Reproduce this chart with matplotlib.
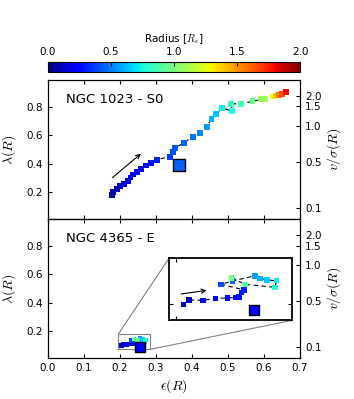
import numpy as np
import matplotlib.pyplot as plt
from matplotlib.colors import Normalize
from mpl_toolkits.axes_grid1.inset_locator import mark_inset

plt.rcParams['mathtext.fontset'] = 'cm'
plt.rcParams['font.size'] = 7.5
plt.rcParams['xtick.direction'] = 'in'
plt.rcParams['ytick.direction'] = 'in'

# NGC 1023 profile (ellipticity, lambda, radius in Re)
eps_1023 = [0.178, 0.180, 0.191, 0.201, 0.212, 0.222, 0.229, 0.235, 0.247, 0.259,
            0.272, 0.285, 0.302, 0.340, 0.347, 0.353, 0.378, 0.402, 0.421, 0.441,
            0.454, 0.466, 0.484, 0.512, 0.509, 0.535, 0.568, 0.591, 0.602, 0.624,
            0.633, 0.642, 0.649, 0.661]
lam_1023 = [0.179, 0.198, 0.221, 0.242, 0.258, 0.277, 0.303, 0.324, 0.343, 0.364,
            0.387, 0.404, 0.429, 0.450, 0.481, 0.511, 0.549, 0.591, 0.614, 0.658,
            0.717, 0.750, 0.792, 0.771, 0.822, 0.822, 0.839, 0.853, 0.858, 0.874,
            0.881, 0.886, 0.893, 0.904]
rad_1023 = [0.06, 0.08, 0.10, 0.12, 0.14, 0.16, 0.18, 0.20, 0.22, 0.24,
            0.26, 0.28, 0.31, 0.38, 0.40, 0.42, 0.45, 0.48, 0.52, 0.56,
            0.60, 0.64, 0.72, 0.76, 0.84, 0.88, 0.96, 1.04, 1.10, 1.30,
            1.42, 1.55, 1.65, 1.80]
big_1023 = (0.363, 0.389, 0.45)

# NGC 4365 profile
eps_4365 = [0.2049, 0.2091, 0.2190, 0.2278, 0.2363, 0.2422, 0.2443, 0.2462, 0.2480,
            0.2316, 0.2398, 0.2556, 0.2591, 0.2639, 0.2709, 0.2697, 0.2485, 0.2391]
lam_4365 = [0.0993, 0.1067, 0.1062, 0.1096, 0.1101, 0.1113, 0.1123, 0.1192, 0.1238,
            0.1335, 0.1392, 0.1482, 0.1438, 0.1409, 0.1397, 0.1284, 0.1335, 0.1448]
rad_4365 = [0.08, 0.12, 0.18, 0.21, 0.23, 0.25, 0.27, 0.29, 0.32,
            0.40, 0.46, 0.56, 0.60, 0.65, 0.72, 0.80, 0.92, 0.98]
big_4365 = (0.2551, 0.0896, 0.25)

VS_TICKS = [0.1, 0.5, 1.0, 1.5, 2.0]
KAPPA = 0.9


def lam_of_vs(vs):
    vs = np.asarray(vs)
    return KAPPA * vs / np.sqrt(1 + KAPPA**2 * vs**2)


norm = Normalize(0, 2)
cmap = 'jet'
YLIM = (0.01, 0.99)


def draw_profile(ax, eps, lam, rad, big, ms=16, big_ms=None):
    ax.plot(eps, lam, 'k--', lw=0.8, dashes=(4, 3), zorder=2)
    sc = ax.scatter(eps, lam, c=rad, cmap=cmap, norm=norm, marker='s', s=ms,
                    edgecolors='none', zorder=3)
    ax.scatter([big[0]], [big[1]], c=[big[2]], cmap=cmap, norm=norm, marker='s',
               s=big_ms or ms * 3.8, edgecolors='k', linewidths=1, zorder=4)
    return sc


def setup_panel(ax, name):
    ax.set_xlim(0, 0.7)
    ax.set_ylim(*YLIM)
    ax.set_yticks([0.2, 0.4, 0.6, 0.8])
    ax.set_xticks(np.arange(0, 0.71, 0.1))
    ax.tick_params(top=True, length=3)
    ax.set_ylabel(r'$\lambda(R)$', fontsize=10, labelpad=6)
    ax.text(0.05, 0.83, name, fontsize=9.5)
    tw = ax.twinx()
    tw.set_ylim(*YLIM)
    tw.set_yticks(lam_of_vs(VS_TICKS))
    tw.set_yticklabels([f'{v:.1f}' for v in VS_TICKS])
    tw.tick_params(direction='in', length=3)
    tw.set_ylabel(r'$v/\sigma(R)$', fontsize=10, labelpad=3)


fig = plt.figure(figsize=(3.54, 3.99), dpi=100)
ax1 = fig.add_axes([0.1356, 0.4511, 0.7119, 0.3484])
ax2 = fig.add_axes([0.1356, 0.1020, 0.7119, 0.3491])
cax = fig.add_axes([0.1356, 0.8195, 0.7119, 0.025])

# top panel: NGC 1023
sc = draw_profile(ax1, eps_1023, lam_1023, rad_1023, big_1023, ms=18)
setup_panel(ax1, 'NGC 1023 - S0')
ax1.set_xticklabels([])
ax1.annotate('', xy=(0.264, 0.483), xytext=(0.173, 0.289),
             arrowprops=dict(arrowstyle='->', color='k', lw=0.8))

# bottom panel: NGC 4365
draw_profile(ax2, eps_4365, lam_4365, rad_4365, big_4365, ms=11, big_ms=55)
setup_panel(ax2, 'NGC 4365 - E')
ax2.set_xlabel(r'$\epsilon(R)$', fontsize=10, labelpad=3)

# zoomed inset
axin = fig.add_axes([0.4783, 0.1972, 0.3475, 0.1569])
draw_profile(axin, eps_4365, lam_4365, rad_4365, big_4365, ms=16)
axin.set_xlim(0.195, 0.282)
axin.set_ylim(0.072, 0.179)
axin.set_xticks([0.2])
axin.set_yticks([0.1])
axin.tick_params(labelbottom=False, labelleft=False, top=True, right=True, length=3)
for sp in axin.spines.values():
    sp.set_linewidth(1.3)
axin.annotate('', xy=(0.2233, 0.1238), xytext=(0.2014, 0.1164),
              arrowprops=dict(arrowstyle='->', color='k', lw=0.8))
mark_inset(ax2, axin, loc1=2, loc2=4, fc='none', ec='0.5', lw=0.8)

# colorbar
cb = fig.colorbar(sc, cax=cax, orientation='horizontal')
cb.set_ticks([0.0, 0.5, 1.0, 1.5, 2.0])
cax.xaxis.set_ticks_position('top')
cax.xaxis.set_label_position('top')
cax.tick_params(direction='in', length=3)
cb.set_label(r'Radius [$R_e$]', fontsize=7.5, labelpad=4)

fig.savefig('out.png', dpi=100)
